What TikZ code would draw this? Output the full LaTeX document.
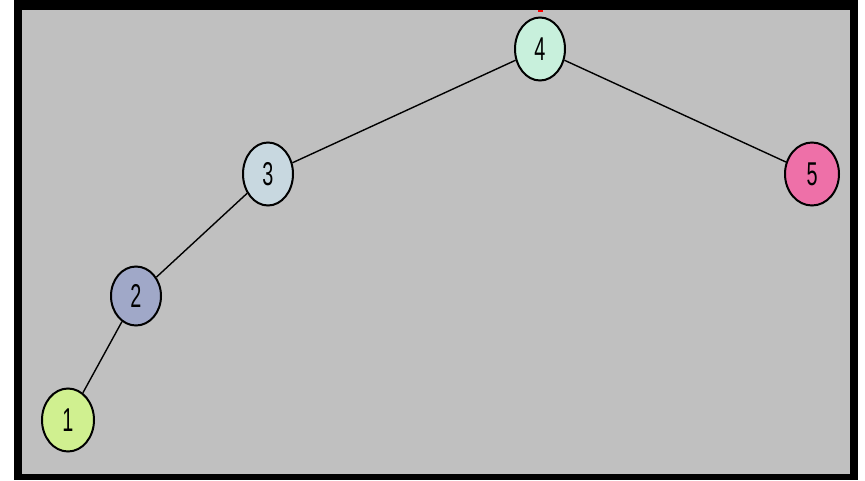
\documentclass[tikz,border=0pt]{standalone}
\usepackage{fontspec}
\usepackage{graphicx}
\usetikzlibrary{shapes.geometric}
\setmainfont{Liberation Sans}
\definecolor{panel}{RGB}{192,192,192}
\definecolor{cOne}{RGB}{208,240,144}
\definecolor{cTwo}{RGB}{160,168,200}
\definecolor{cThree}{RGB}{200,216,224}
\definecolor{cFour}{RGB}{200,240,220}
\definecolor{cFive}{RGB}{238,112,168}
\newcommand{\digitlabel}[1]{\scalebox{0.6}[1]{\fontsize{33}{33}\selectfont #1}}
\begin{document}
\begin{tikzpicture}[x=1pt,y=-1pt,
  treenode/.style={ellipse,draw=black,line width=2pt,minimum width=50pt,minimum height=63pt,inner sep=0pt},
  link/.style={draw=black,line width=1.4pt}]
% canvas
\useasboundingbox (0,0) rectangle (865,480);
\fill[white] (0,0) rectangle (865,480);
\fill[black] (14,0) rectangle (858,480);
\fill[panel] (22,10) rectangle (850,474);
% small red stub above the root
\fill[red] (538,10) rectangle (543,12);
% nodes
\node[treenode,fill=cFour]  (n4) at (540,49)  {\digitlabel{4}};
\node[treenode,fill=cThree] (n3) at (268,174) {\digitlabel{3}};
\node[treenode,fill=cFive,minimum width=54pt] (n5) at (812,174) {\digitlabel{5}};
\node[treenode,fill=cTwo,minimum height=59pt] (n2) at (136,296) {\digitlabel{2}};
\node[treenode,fill=cOne,minimum width=52pt]  (n1) at (68,420)  {\digitlabel{1}};
% edges
\draw[link] (n4) -- (n3);
\draw[link] (n4) -- (n5);
\draw[link] (n3) -- (n2);
\draw[link] (n2) -- (n1);
\end{tikzpicture}
\end{document}
